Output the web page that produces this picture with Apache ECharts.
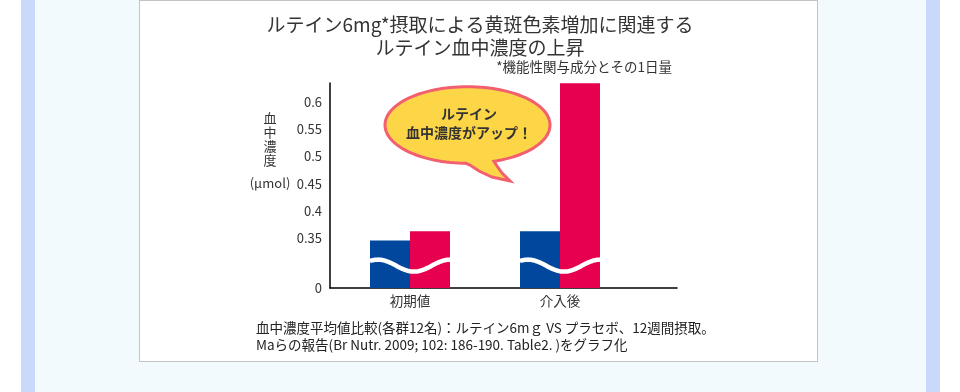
<!DOCTYPE html>
<html>
<head>
<meta charset="utf-8">
<script src="https://cdn.jsdelivr.net/npm/echarts@6/dist/echarts.min.js"></script>
<style>
  html, body { margin: 0; padding: 0; width: 960px; height: 392px; background: #ffffff; overflow: hidden; }
  #bg { position: absolute; left: 21px; top: 0; width: 919px; height: 392px; background: #c8d9fb; }
  #inner { position: absolute; left: 35px; top: 0; width: 891px; height: 392px; background: #f2fafe; }
  #panel { position: absolute; left: 139px; top: 0; width: 677px; height: 360px; background: #ffffff; border: 1px solid #c4c4c4; }
  #chart { position: absolute; left: 0; top: 0; width: 960px; height: 392px; }
</style>
</head>
<body>
<div id="bg"></div>
<div id="inner"></div>
<div id="panel"></div>
<div id="chart"></div>
<script>
// ---- data ----
const categories = ['初期値', '介入後'];
const placeboValues = [0.346, 0.363];   // blue bars
const luteinValues = [0.363, 0.634];    // red bars
const yTickValues = [0.35, 0.4, 0.45, 0.5, 0.55, 0.6];
const brokenAxisBottom = 0.259;         // shown as "0" (broken axis)
const axisTop = 0.6345;
const waveLevel = [0.30, 0.30];          // where the axis-break wave is drawn

const titleText = 'ルテイン6mg*摂取による黄斑色素増加に関連する\nルテイン血中濃度の上昇';
const noteText = '*機能性関与成分とその1日量';
const footText = '血中濃度平均値比較(各群12名)：ルテイン6mｇ VS プラセボ、12週間摂取。\nMaらの報告(Br Nutr. 2009; 102: 186-190. Table2. )をグラフ化';
const bubbleText = 'ルテイン\n血中濃度がアップ！';

const FONT = '"Noto Sans CJK JP", "Noto Sans", sans-serif';
const BLUE = '#00479d';
const RED = '#e6004f';

// speech bubble outline (ellipse + tail) built as a polygon
function bubblePoints() {
  const cx = 467.5, cy = 125, rx = 82.5, ry = 38.3;
  const tA = 1.244, tB = 1.589; // tail base angles
  const N = 120;
  const pts = [];
  let tailDone = false;
  for (let i = 0; i <= N; i++) {
    const t = (i / N) * Math.PI * 2;
    if (t > tA && t < tB) {
      if (!tailDone) {
        pts.push([cx + rx * Math.cos(tA), cy + ry * Math.sin(tA)]);
        pts.push([497, 166]);
        pts.push([502, 173]);
        pts.push([510, 181]);
        pts.push([492, 177]);
        pts.push([479, 171]);
        pts.push([470, 165]);
        pts.push([cx + rx * Math.cos(tB), cy + ry * Math.sin(tB)]);
        tailDone = true;
      }
      continue;
    }
    pts.push([cx + rx * Math.cos(t), cy + ry * Math.sin(t)]);
  }
  return pts;
}

const chart = echarts.init(document.getElementById('chart'), null, { renderer: 'canvas' });

chart.setOption({
  backgroundColor: 'transparent',
  animation: false,
  title: [
    { text: titleText, left: 'center', top: 8,
      textStyle: { fontFamily: FONT, fontSize: 19, fontWeight: 'normal', color: '#333', lineHeight: 23 } },
    { text: noteText, right: 283, top: 55,
      textStyle: { fontFamily: FONT, fontSize: 13.5, fontWeight: 'normal', color: '#333' } },
    { text: footText, left: 251, top: 314,
      textStyle: { fontFamily: FONT, fontSize: 13.5, fontWeight: 'normal', color: '#222', lineHeight: 17 } }
  ],
  grid: [
    { left: 335, top: 83, width: 300, height: 205 },
    { left: 330, top: 83, width: 347, height: 205 }
  ],
  xAxis: [
    { type: 'category', gridIndex: 0, data: categories,
      axisLine: { show: false }, axisTick: { show: false },
      axisLabel: { fontFamily: FONT, fontSize: 13.5, color: '#333', margin: 6 } },
    { type: 'value', gridIndex: 1, min: 0, max: 1,
      axisLine: { show: true, onZero: false, lineStyle: { color: '#000', width: 1.5 } },
      axisTick: { show: false }, axisLabel: { show: false }, splitLine: { show: false } }
  ],
  yAxis: [
    { type: 'value', gridIndex: 0, min: brokenAxisBottom, max: axisTop, show: false, splitLine: { show: false } },
    { type: 'value', gridIndex: 1, min: brokenAxisBottom, max: axisTop,
      axisLine: { show: true, lineStyle: { color: '#000', width: 1.5 } },
      axisTick: { show: false }, splitLine: { show: false },
      axisLabel: {
        customValues: [brokenAxisBottom].concat(yTickValues),
        fontFamily: FONT, fontSize: 13, color: '#333', margin: 8,
        formatter: function (v) { return v < 0.3 ? '0' : String(v); }
      } }
  ],
  series: [
    { type: 'bar', name: 'プラセボ', xAxisIndex: 0, yAxisIndex: 0, data: placeboValues,
      barWidth: 40, barGap: '0%', itemStyle: { color: BLUE }, clip: true },
    { type: 'bar', name: 'ルテイン', xAxisIndex: 0, yAxisIndex: 0, data: luteinValues,
      barWidth: 40, barGap: '0%', itemStyle: { color: RED }, clip: true },
    { type: 'custom', xAxisIndex: 0, yAxisIndex: 0, z: 10, clip: false,
      data: waveLevel.map(function (v, i) { return [i, v]; }),
      renderItem: function (params, api) {
        const c = api.coord([api.value(0), api.value(1)]);
        const pts = [];
        for (let dx = -40; dx <= 40; dx += 1) {
          pts.push([c[0] + dx, c[1] - 6 * Math.cos(2 * Math.PI * (dx + 32) / 72)]);
        }
        return { type: 'polyline', shape: { points: pts },
          style: { stroke: '#ffffff', lineWidth: 4.5, fill: null } };
      } }
  ],
  graphic: [
    { type: 'polygon', z: 20, shape: { points: bubblePoints() },
      style: { fill: '#fdd647', stroke: '#f2606f', lineWidth: 3 } },
    { type: 'text', z: 21, x: 469, y: 123,
      style: { text: bubbleText, font: 'bold 14px ' + FONT, fill: '#333', textAlign: 'center', textVerticalAlign: 'middle', lineHeight: 19.5 } },
    { type: 'text', z: 21, x: 270, y: 111,
      style: { text: '血\n中\n濃\n度', font: '13px ' + FONT, fill: '#333', textAlign: 'center', textVerticalAlign: 'top', lineHeight: 14 } },
    { type: 'text', z: 21, x: 270, y: 183,
      style: { text: '(μmol)', font: '13px ' + FONT, fill: '#333', textAlign: 'center', textVerticalAlign: 'middle' } }
  ]
});
</script>
</body>
</html>
